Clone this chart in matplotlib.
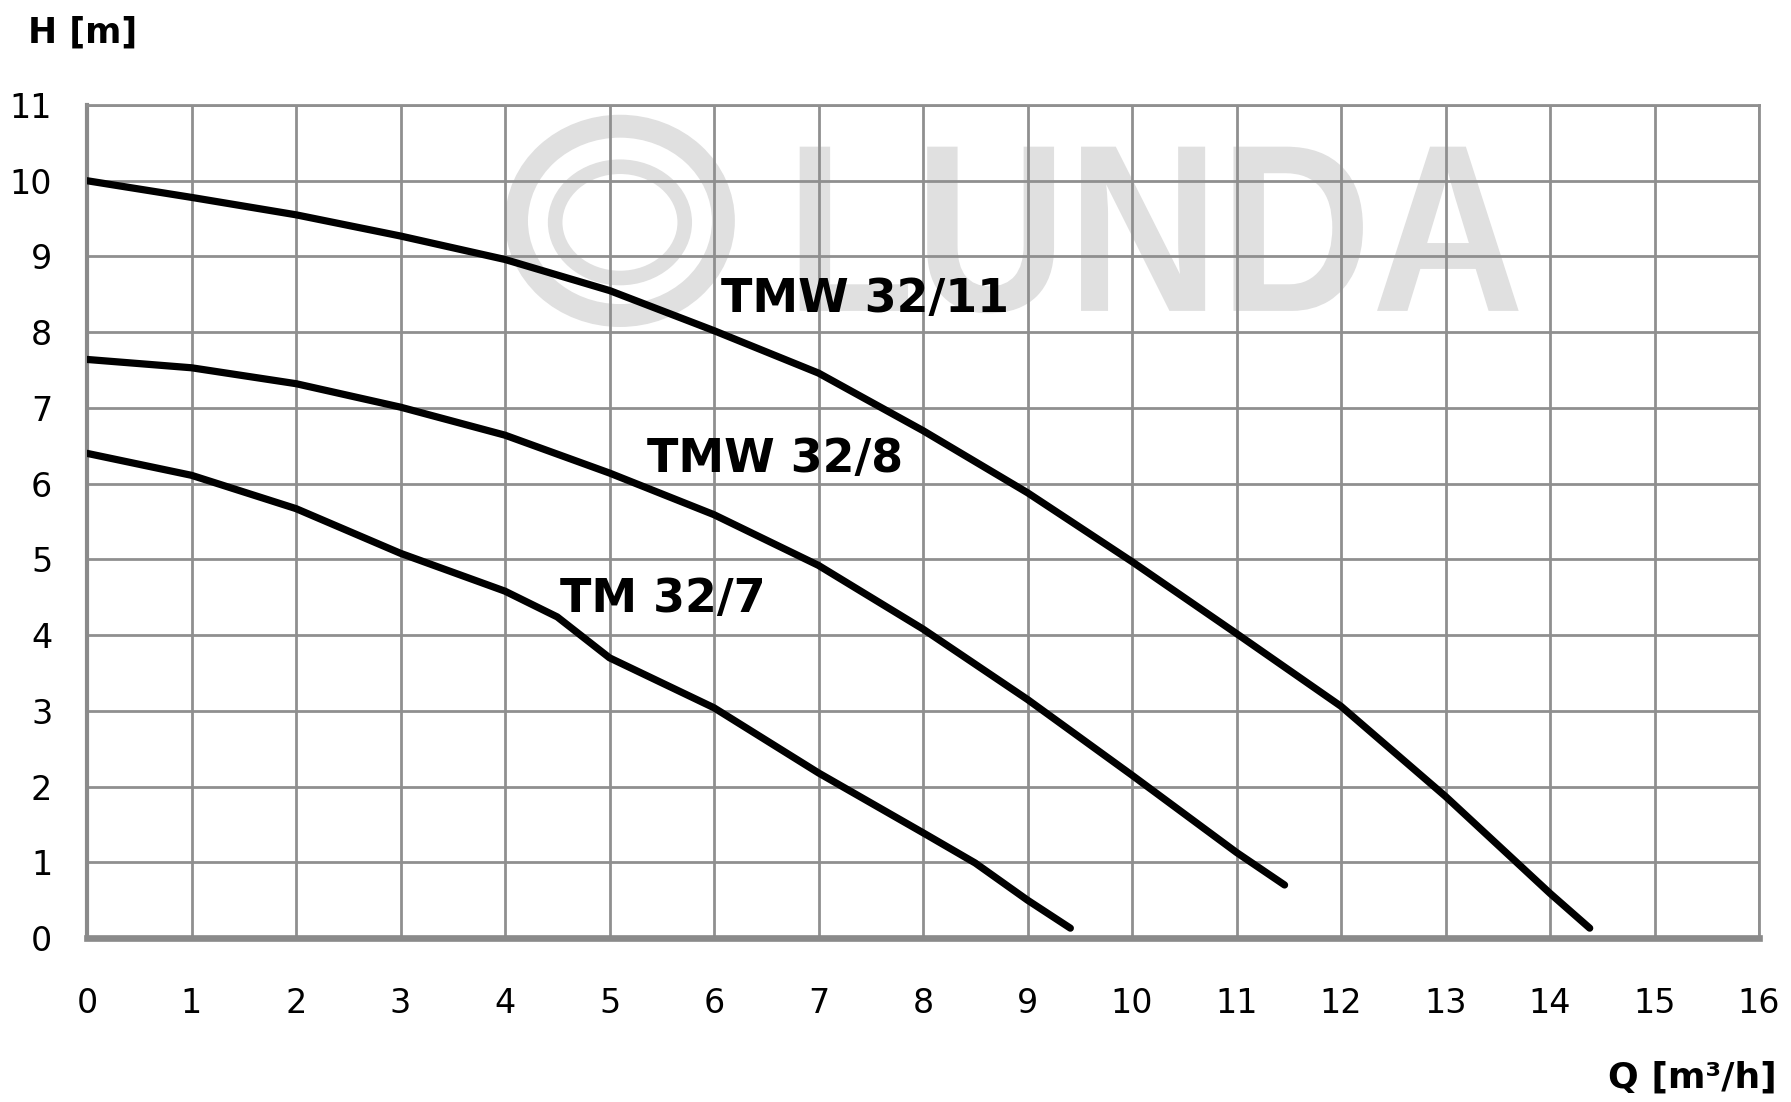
# pump curves H(Q) for TM / TMW 32 series
import matplotlib
matplotlib.use("Agg")
import matplotlib.pyplot as plt
import matplotlib.transforms as mtransforms
from matplotlib.patches import Ellipse, PathPatch
from matplotlib.textpath import TextPath
from matplotlib.font_manager import FontProperties

# data
q_tmw_32_11 = [0, 1, 2, 3, 4, 5, 6, 7, 8, 9, 10, 11, 12, 13, 14, 14.38]
h_tmw_32_11 = [10.0, 9.78, 9.55, 9.27, 8.96, 8.55, 8.02, 7.46, 6.70, 5.88, 4.97, 4.02, 3.06, 1.87, 0.59, 0.13]

q_tmw_32_8 = [0, 1, 2, 3, 4, 5, 6, 7, 8, 9, 10, 11, 11.46]
h_tmw_32_8 = [7.64, 7.53, 7.32, 7.01, 6.64, 6.14, 5.59, 4.92, 4.08, 3.15, 2.15, 1.13, 0.70]

q_tm_32_7 = [0, 1, 2, 3, 4, 4.5, 5, 6, 7, 8, 8.5, 9, 9.41]
h_tm_32_7 = [6.40, 6.11, 5.67, 5.08, 4.58, 4.24, 3.70, 3.04, 2.18, 1.39, 0.99, 0.50, 0.13]

curve_names = ["TMW 32/11", "TMW 32/8", "TM 32/7"]
x_ticks = list(range(0, 17))
y_ticks = list(range(0, 12))

plt.rcParams['font.family'] = ['DejaVu Sans']

fig = plt.figure(figsize=(17.91, 11.02), dpi=100)
ax = fig.add_axes([87 / 1791, (1102 - 938) / 1102, (1759 - 87) / 1791, (938 - 105) / 1102])

grid_col = '#8f8f8f'
ax.set_axisbelow(True)
ax.grid(True, color=grid_col, linewidth=2.0)

# watermark (logo rings + LUNDA), below the grid
wm_col = '#e0e0e0'
ax.add_patch(Ellipse((5.10, 9.47), 1.98, 2.50, fill=False, linewidth=16.5,
                     edgecolor=wm_col, zorder=0.2))
ax.add_patch(Ellipse((5.10, 9.45), 1.24, 1.47, fill=False, linewidth=10.5,
                     edgecolor=wm_col, zorder=0.2))
tp = TextPath((0, 0), "LUNDA", size=1,
              prop=FontProperties(family="Liberation Sans", weight="bold"))
ext = tp.get_extents()
tr = mtransforms.Affine2D().translate(-ext.x0, -ext.y0) \
    .scale((13.70 - 6.82) / ext.width, (10.45 - 8.25) / ext.height).translate(6.82, 8.25)
ax.add_patch(PathPatch(tr.transform_path(tp), facecolor=wm_col, edgecolor='none', zorder=0.2))

# curves
for q, h in [(q_tmw_32_11, h_tmw_32_11), (q_tmw_32_8, h_tmw_32_8), (q_tm_32_7, h_tm_32_7)]:
    ax.plot(q, h, color='black', linewidth=5.2, solid_capstyle='round',
            solid_joinstyle='round', zorder=3)

# curve labels
label_pos = [(6.07, 8.27), (5.36, 6.16), (4.53, 4.31)]
for name, (lx, ly) in zip(curve_names, label_pos):
    ax.text(lx, ly, name, fontsize=33, fontweight='bold', ha='left', va='baseline',
            color='black', zorder=4)

ax.set_xlim(0, 16)
ax.set_ylim(0, 11)
ax.set_xticks(x_ticks)
ax.set_yticks(y_ticks)
ax.tick_params(axis='both', length=0, labelsize=24, colors='black')
ax.tick_params(axis='x', pad=35)
ax.tick_params(axis='y', pad=25)

for side in ['top', 'right']:
    ax.spines[side].set_color(grid_col)
    ax.spines[side].set_linewidth(2.0)
ax.spines['left'].set_color('#8a8a8a')
ax.spines['left'].set_linewidth(3.0)
ax.spines['bottom'].set_color('#8a8a8a')
ax.spines['bottom'].set_linewidth(4.8)

fig.text(28 / 1791, 1 - 16 / 1102, "H [m]", fontsize=25, fontweight='bold',
         ha='left', va='top')
fig.text(1777 / 1791, 1 - 1088 / 1102, "Q [m³/h]", fontsize=26, fontweight='bold',
         ha='right', va='baseline')

fig.savefig("out.png", dpi=100)
